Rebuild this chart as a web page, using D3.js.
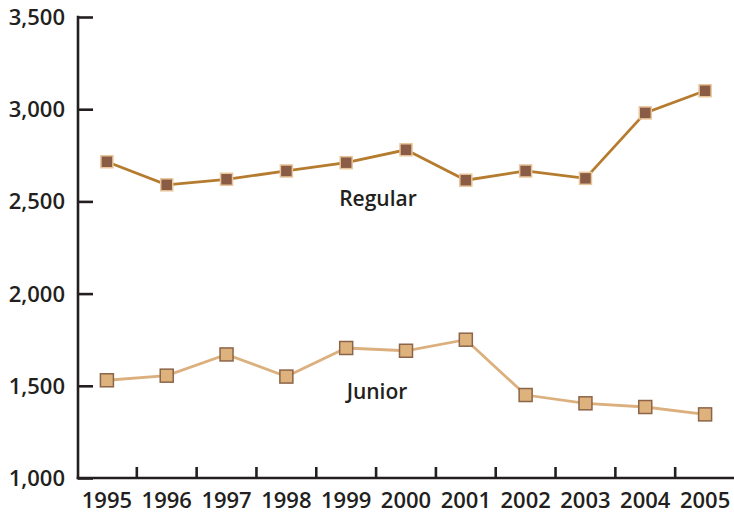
<!DOCTYPE html>
<html>
<head>
<meta charset="utf-8">
<script src="https://cdn.jsdelivr.net/npm/d3@7"></script>
<style>
  html, body { margin: 0; padding: 0; background: #fff; }
  svg { display: block; }
  text { font-family: "Open Sans", "Lato", sans-serif; fill: #231f20; }
</style>
</head>
<body>
<svg id="chart" width="734" height="514"></svg>
<script>
// Years along the x axis
const years = ["1995", "1996", "1997", "1998", "1999", "2000", "2001", "2002", "2003", "2004", "2005"];
// Enrolment counts per series
const regular = [2715, 2590, 2620, 2665, 2710, 2780, 2615, 2665, 2625, 2980, 3100];
const junior  = [1530, 1555, 1670, 1550, 1705, 1690, 1750, 1450, 1405, 1385, 1345];
// Y axis tick values
const yTicks = [1000, 1500, 2000, 2500, 3000, 3500];

const svg = d3.select("#chart");
const W = 734, H = 514;
const plotLeft = 78, plotTop = 17, plotBottom = 478, plotRight = 735;

const x = d3.scaleBand().domain(years).range([plotLeft - 1, plotRight]).padding(0);
const y = d3.scaleLinear().domain([1000, 3500]).range([plotBottom, plotTop]);

const axisColor = "#231f20";

// Y axis: line with inward ticks
const yAxis = d3.axisRight(y)
  .tickValues(yTicks)
  .tickSize(15)
  .tickFormat("");
const gy = svg.append("g").attr("transform", `translate(${plotLeft},0)`).call(yAxis);
gy.select(".domain").remove();
gy.selectAll(".tick line").attr("stroke", axisColor).attr("stroke-width", 2.6);
svg.append("line")
  .attr("x1", plotLeft).attr("x2", plotLeft)
  .attr("y1", y(3500) - 1.3).attr("y2", plotBottom + 1.3)
  .attr("stroke", axisColor).attr("stroke-width", 2.6);

// Y tick labels
svg.append("g").selectAll("text").data(yTicks).join("text")
  .attr("x", 65)
  .attr("y", d => y(d))
  .attr("dy", "0.36em")
  .attr("text-anchor", "end")
  .attr("font-size", 22)
  .attr("font-weight", 600)
  .text(d => d3.format(",")(d));

// X axis line
svg.append("line")
  .attr("x1", plotLeft - 1.3).attr("x2", W)
  .attr("y1", plotBottom).attr("y2", plotBottom)
  .attr("stroke", axisColor).attr("stroke-width", 2.6);

// X ticks between years, pointing up
const boundaries = years.slice(1).map(d => x(d));
svg.append("g").selectAll("line").data(boundaries).join("line")
  .attr("x1", d => d).attr("x2", d => d)
  .attr("y1", plotBottom).attr("y2", plotBottom - 11)
  .attr("stroke", axisColor).attr("stroke-width", 2.6);

// X tick labels
svg.append("g").selectAll("text").data(years).join("text")
  .attr("x", d => x(d) + x.bandwidth() / 2)
  .attr("y", 508)
  .attr("text-anchor", "middle")
  .attr("font-size", 22)
  .attr("font-weight", 600)
  .text(d => d);

const cx = d => x(d) + x.bandwidth() / 2;
const line = d3.line().x(d => cx(d.year)).y(d => y(d.value));

function drawSeries(values, lineColor, fill, stroke, size) {
  const data = years.map((yr, i) => ({ year: yr, value: values[i] }));
  svg.append("path")
    .datum(data)
    .attr("d", line)
    .attr("fill", "none")
    .attr("stroke", lineColor)
    .attr("stroke-width", 2.8);
  svg.append("g").selectAll("rect").data(data).join("rect")
    .attr("x", d => cx(d.year) - size / 2)
    .attr("y", d => y(d.value) - size / 2)
    .attr("width", size)
    .attr("height", size)
    .attr("fill", fill)
    .attr("stroke", stroke)
    .attr("stroke-width", 1.5);
}

drawSeries(regular, "#b57b2e", "#8a5c45", "#e9c59a", 12);
drawSeries(junior, "#dcb07e", "#deb27d", "#8c6448", 13);

// Series labels
svg.append("text")
  .attr("x", 378).attr("y", 206)
  .attr("text-anchor", "middle")
  .attr("font-size", 21)
  .attr("font-weight", 600)
  .attr("fill", "#2b2b2b")
  .text("Regular");
svg.append("text")
  .attr("x", 377).attr("y", 399)
  .attr("text-anchor", "middle")
  .attr("font-size", 21)
  .attr("font-weight", 600)
  .attr("fill", "#2b2b2b")
  .text("Junior");
</script>
</body>
</html>
